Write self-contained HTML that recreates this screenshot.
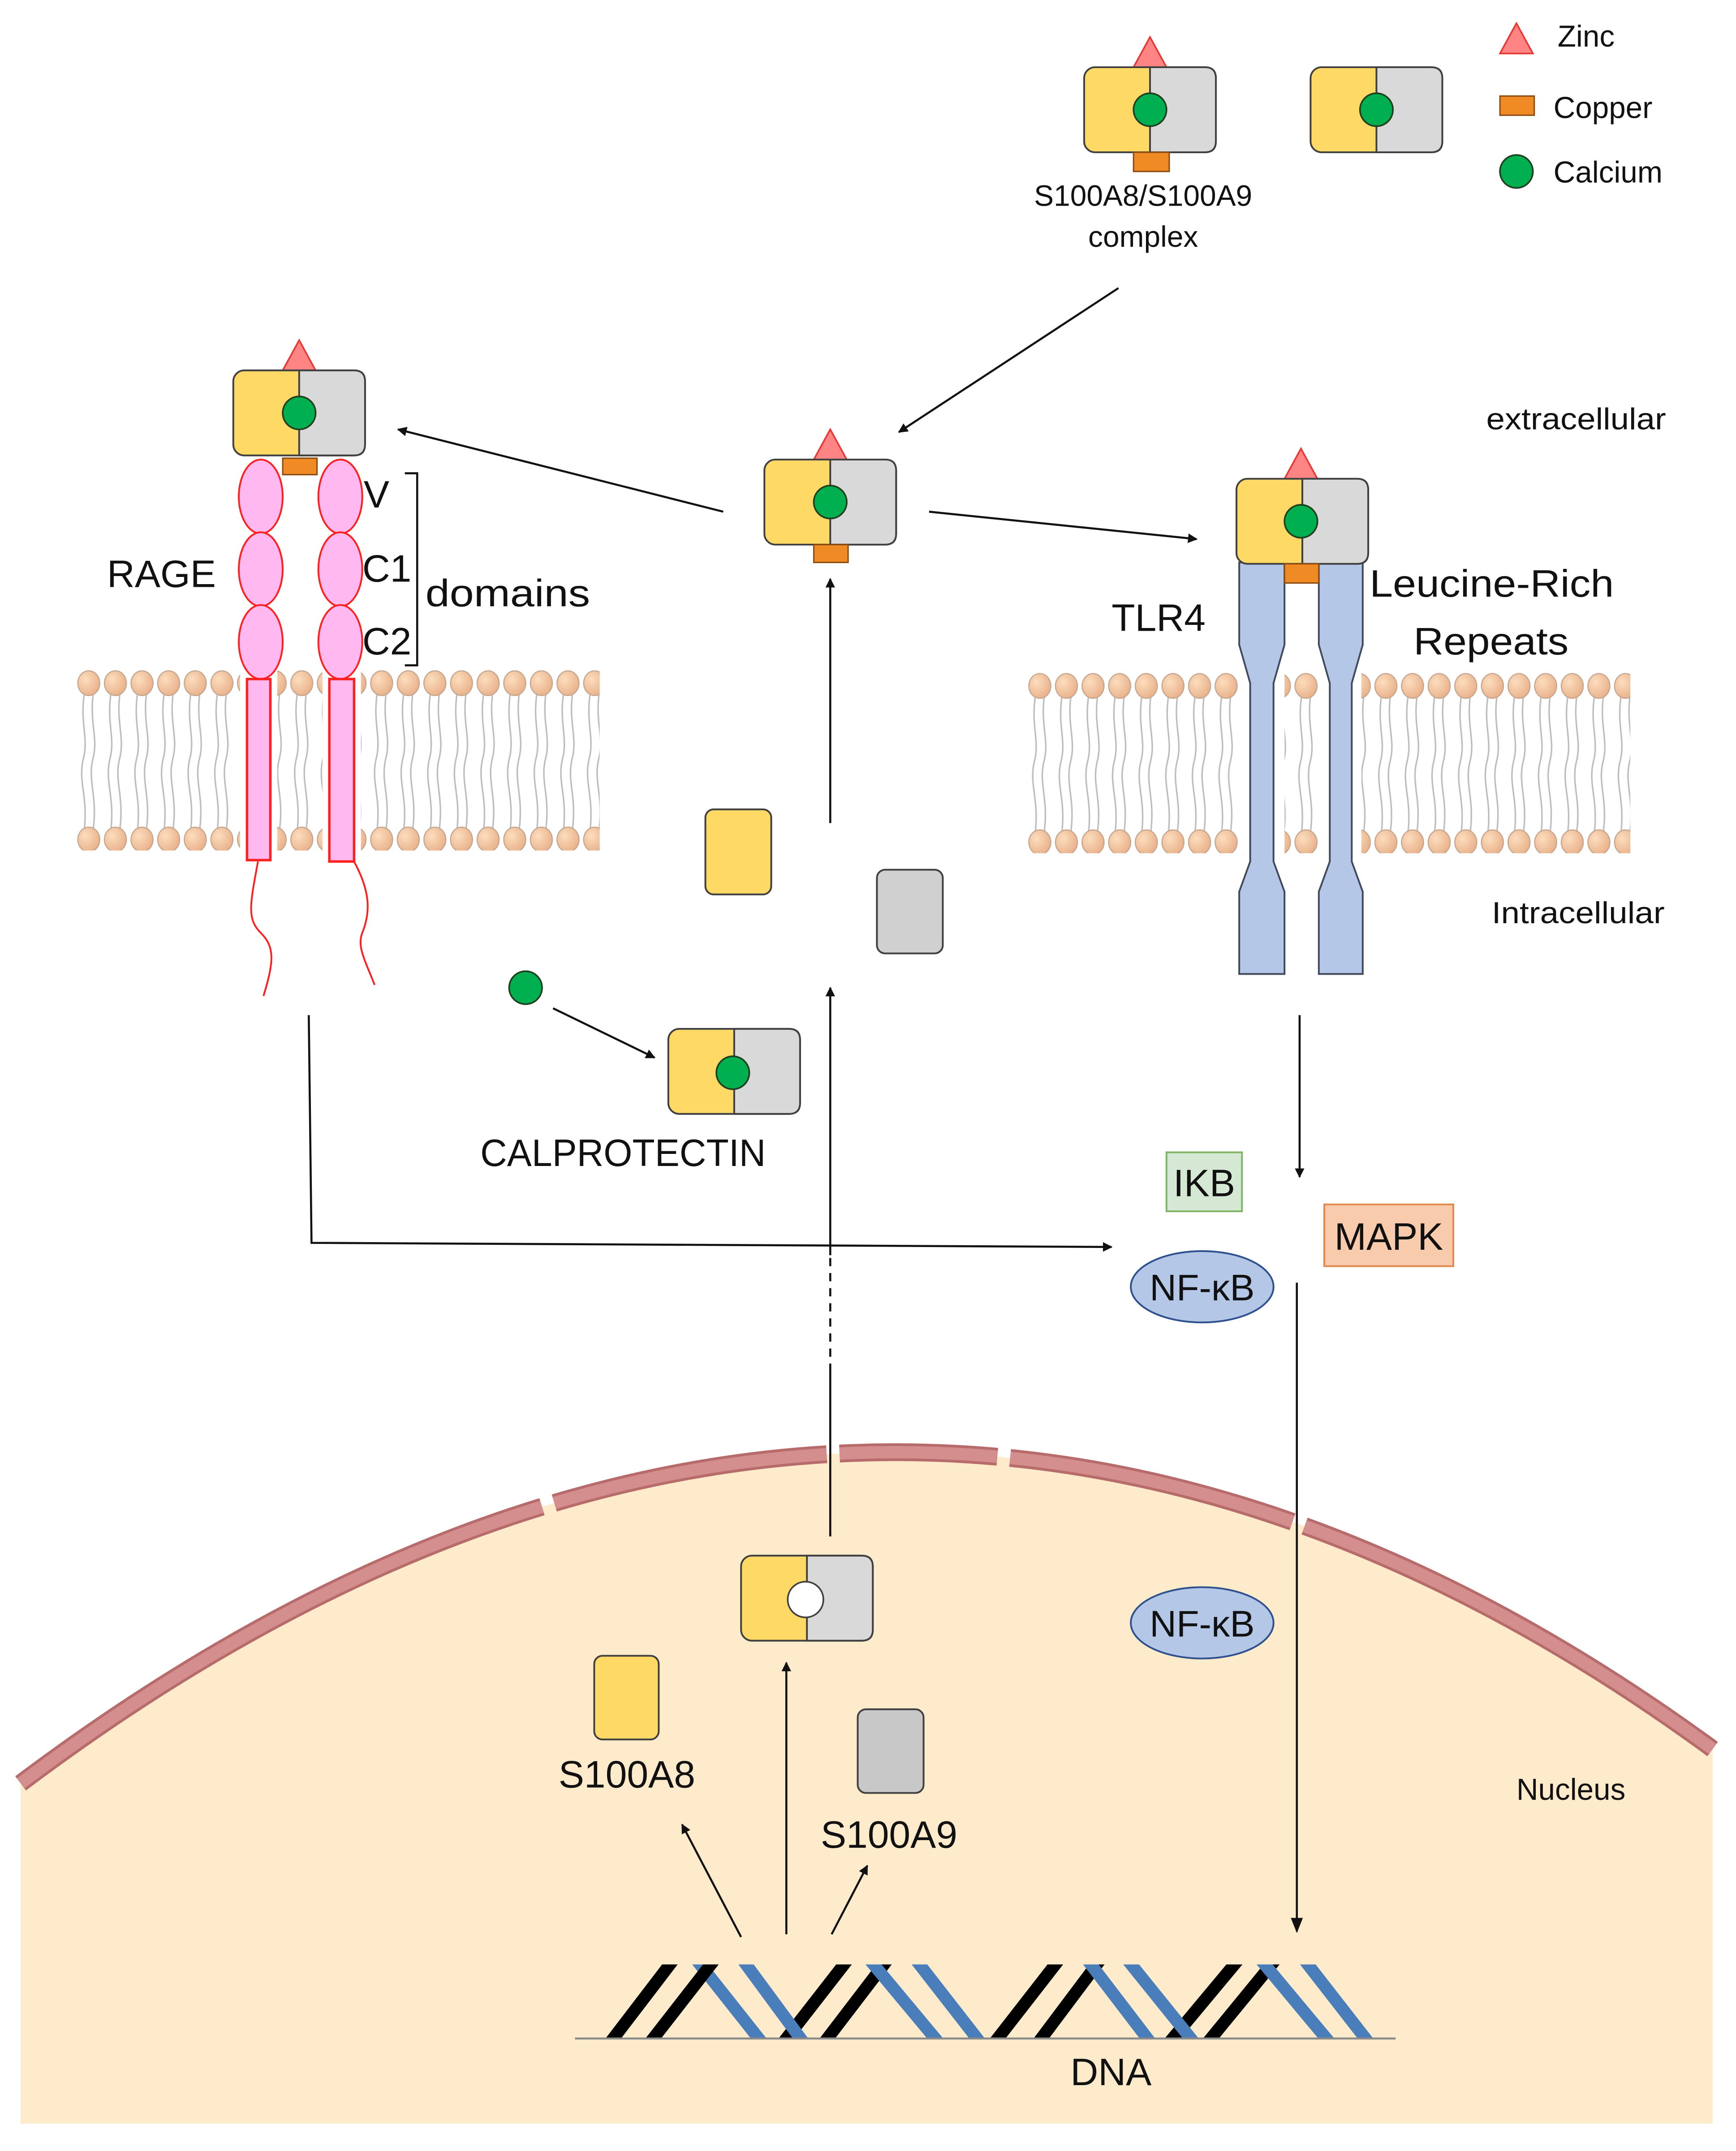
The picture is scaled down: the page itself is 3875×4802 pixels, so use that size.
<!DOCTYPE html>
<html><head><meta charset="utf-8"><style>html,body{margin:0;padding:0;background:#fff}svg{display:block}text{font-family:"Liberation Sans",sans-serif;fill:#111}</style></head>
<body>
<svg width="3875" height="4802" viewBox="0 0 1265 1568" preserveAspectRatio="none" xmlns="http://www.w3.org/2000/svg">
<defs>
<marker id="ar" viewBox="0 0 10 10" refX="9" refY="5" markerWidth="7" markerHeight="7" orient="auto" markerUnits="userSpaceOnUse"><path d="M0,0 L10,5 L0,10 Z" fill="#111"/></marker>
<marker id="arb" viewBox="0 0 10 10" refX="9" refY="5" markerWidth="11" markerHeight="11" orient="auto" markerUnits="userSpaceOnUse"><path d="M0,1 L10,5 L0,9 Z" fill="#111"/></marker>
<radialGradient id="hd" cx="0.35" cy="0.35" r="0.7"><stop offset="0" stop-color="#FCDDBE"/><stop offset="1" stop-color="#E9B18A"/></radialGradient>
<clipPath id="dnaclip"><rect x="400" y="1432" width="640" height="54"/></clipPath>
<pattern id="lip" x="55" y="488" width="19.4" height="132" patternUnits="userSpaceOnUse">
<path d="M6.5,17 C3,40 10,50 5.5,66 C2,82 9,92 6.5,116 M13,17 C10,40 17,50 12.5,66 C9,82 16,92 13,116" fill="none" stroke="#BDBDBD" stroke-width="1.1"/>
<ellipse cx="9.7" cy="10" rx="8" ry="9" fill="url(#hd)" stroke="#C4A58E" stroke-width="0.8"/>
<ellipse cx="9.7" cy="124" rx="8" ry="9" fill="url(#hd)" stroke="#C4A58E" stroke-width="0.8"/>
</pattern>
<pattern id="lip2" x="748" y="490" width="19.4" height="132" patternUnits="userSpaceOnUse">
<path d="M6.5,17 C3,40 10,50 5.5,66 C2,82 9,92 6.5,116 M13,17 C10,40 17,50 12.5,66 C9,82 16,92 13,116" fill="none" stroke="#BDBDBD" stroke-width="1.1"/>
<ellipse cx="9.7" cy="10" rx="8" ry="9" fill="url(#hd)" stroke="#C4A58E" stroke-width="0.8"/>
<ellipse cx="9.7" cy="124" rx="8" ry="9" fill="url(#hd)" stroke="#C4A58E" stroke-width="0.8"/>
</pattern>
<g id="cx">
<rect x="0" y="0" width="96" height="62" rx="8" fill="#FFD966" stroke="#404040" stroke-width="1.3"/>
<path d="M48,0 H88 Q96,0 96,8 V54 Q96,62 88,62 H48 Z" fill="#D9D9D9" stroke="#404040" stroke-width="1.3"/>
</g>
<g id="zn"><path d="M0,-22 L-12,0 L12,0 Z" fill="#FF8585" stroke="#E53935" stroke-width="1.2"/></g>
</defs>

<!-- nucleus -->
<path d="M15,1300 Q640,830 1248,1275 L1248,1548 L15,1548 Z" fill="#FEEBCB"/>
<path d="M15,1300 Q640,830 1248,1275" pathLength="1000" fill="none" stroke="#B86B6B" stroke-width="13" stroke-dasharray="323 7 151 7 86 7 158 7 400"/>
<path d="M15,1300 Q640,830 1248,1275" pathLength="1000" fill="none" stroke="#D48E8D" stroke-width="9" stroke-dasharray="323 7 151 7 86 7 158 7 400"/>

<!-- legend -->
<use href="#zn" x="1105" y="39"/>
<text x="1135" y="34" font-size="22">Zinc</text>
<rect x="1093" y="70" width="25" height="14" fill="#F08A24" stroke="#8a4a10" stroke-width="1"/>
<text x="1132" y="86" font-size="22">Copper</text>
<circle cx="1105" cy="125" r="12" fill="#00B050" stroke="#1f3f1f" stroke-width="1.2"/>
<text x="1132" y="133" font-size="22">Calcium</text>

<!-- top complexes -->
<use href="#zn" x="838" y="49"/>
<use href="#cx" x="790" y="49"/>
<circle cx="838" cy="80" r="12" fill="#00B050" stroke="#1f3f1f" stroke-width="1.2"/>
<rect x="826" y="111" width="26" height="14" fill="#F08A24" stroke="#8a4a10" stroke-width="1"/>
<use href="#cx" x="955" y="49"/>
<circle cx="1003" cy="80" r="12" fill="#00B050" stroke="#1f3f1f" stroke-width="1.2"/>
<text x="833" y="150" font-size="21.5" text-anchor="middle">S100A8/S100A9</text>
<text x="833" y="180" font-size="21.5" text-anchor="middle">complex</text>
<line x1="815" y1="210" x2="655" y2="315" stroke="#111" stroke-width="1.5" marker-end="url(#ar)"/>

<!-- center complex -->
<use href="#zn" x="605" y="335"/>
<use href="#cx" x="557" y="335"/>
<circle cx="605" cy="366" r="12" fill="#00B050" stroke="#1f3f1f" stroke-width="1.2"/>
<rect x="593" y="397" width="25" height="13" fill="#F08A24" stroke="#8a4a10" stroke-width="1"/>
<line x1="527" y1="373" x2="290" y2="313" stroke="#111" stroke-width="1.5" marker-end="url(#ar)"/>
<line x1="677" y1="373" x2="872" y2="393" stroke="#111" stroke-width="1.5" marker-end="url(#ar)"/>
<line x1="605" y1="600" x2="605" y2="422" stroke="#111" stroke-width="1.5" marker-end="url(#ar)"/>

<!-- membranes -->
<rect x="55" y="488" width="382" height="132" fill="url(#lip)"/>
<rect x="748" y="490" width="440" height="132" fill="url(#lip2)"/>
<rect x="175" y="486" width="27" height="136" fill="#fff"/>
<rect x="235" y="486" width="28" height="136" fill="#fff"/>
<rect x="904" y="488" width="32" height="136" fill="#fff"/>
<rect x="962" y="488" width="30" height="136" fill="#fff"/>

<!-- RAGE -->
<use href="#zn" x="218" y="270"/>
<use href="#cx" x="170" y="270"/>
<circle cx="218" cy="301" r="12" fill="#00B050" stroke="#1f3f1f" stroke-width="1.2"/>
<rect x="206" y="334" width="25" height="12" fill="#F08A24" stroke="#8a4a10" stroke-width="1"/>
<g fill="#FFB9F0" stroke="#FF2020" stroke-width="1.3">
<ellipse cx="190" cy="362" rx="16" ry="27"/><ellipse cx="190" cy="415" rx="16" ry="27"/><ellipse cx="190" cy="468" rx="16" ry="27"/>
<ellipse cx="248" cy="362" rx="16" ry="27"/><ellipse cx="248" cy="415" rx="16" ry="27"/><ellipse cx="248" cy="468" rx="16" ry="27"/>
<rect x="180" y="495" width="17" height="132" stroke-width="1.8"/>
<rect x="240" y="495" width="18" height="133" stroke-width="1.8"/>
</g>
<path d="M188,628 C182,660 180,670 190,680 C200,690 200,700 192,726" fill="none" stroke="#FF2020" stroke-width="1.3"/>
<path d="M258,628 C270,650 270,665 264,680 C260,690 266,700 273,718" fill="none" stroke="#FF2020" stroke-width="1.3"/>
<text x="265" y="370" font-size="28">V</text>
<text x="264" y="424" font-size="28">C1</text>
<text x="264" y="477" font-size="28">C2</text>
<path d="M295,345 H304 V485 H295" fill="none" stroke="#111" stroke-width="1.5"/>
<text x="310" y="442" font-size="28" textLength="120" lengthAdjust="spacingAndGlyphs">domains</text>
<text x="78" y="428" font-size="28">RAGE</text>

<!-- TLR4 -->
<g fill="#B4C7E7" stroke="#404a5a" stroke-width="1.3">
<path d="M903,410 H936 V470 L928,498 V628 L936,650 V710 H903 V650 L911,628 V498 L903,470 Z"/>
<path d="M961,410 H993 V470 L985,498 V628 L993,650 V710 H961 V650 L969,628 V498 L961,470 Z"/>
</g>
<use href="#zn" x="948" y="349"/>
<use href="#cx" x="901" y="349"/>
<circle cx="948" cy="380" r="12" fill="#00B050" stroke="#1f3f1f" stroke-width="1.2"/>
<rect x="936" y="411" width="25" height="14" fill="#F08A24" stroke="#8a4a10" stroke-width="1"/>
<text x="810" y="460" font-size="28">TLR4</text>
<text x="998" y="435" font-size="28" textLength="178" lengthAdjust="spacingAndGlyphs">Leucine-Rich</text>
<text x="1030" y="477" font-size="28" textLength="113" lengthAdjust="spacingAndGlyphs">Repeats</text>
<text x="1083" y="313" font-size="22" textLength="131" lengthAdjust="spacingAndGlyphs">extracellular</text>
<text x="1087" y="673" font-size="22" textLength="126" lengthAdjust="spacingAndGlyphs">Intracellular</text>

<!-- monomers -->
<rect x="514" y="590" width="48" height="62" rx="6" fill="#FFD966" stroke="#404040" stroke-width="1.3"/>
<rect x="639" y="634" width="48" height="61" rx="6" fill="#D0D0D0" stroke="#404040" stroke-width="1.3"/>

<!-- calprotectin -->
<circle cx="383" cy="720" r="12" fill="#00B050" stroke="#1f3f1f" stroke-width="1.2"/>
<line x1="403" y1="735" x2="477" y2="771" stroke="#111" stroke-width="1.5" marker-end="url(#ar)"/>
<use href="#cx" x="487" y="750"/>
<circle cx="534" cy="782" r="12" fill="#00B050" stroke="#1f3f1f" stroke-width="1.2"/>
<text x="350" y="850" font-size="28" textLength="208" lengthAdjust="spacingAndGlyphs">CALPROTECTIN</text>

<!-- central vertical arrow -->
<line x1="605" y1="1120" x2="605" y2="1000" stroke="#111" stroke-width="1.5"/>
<line x1="605" y1="1000" x2="605" y2="915" stroke="#111" stroke-width="1.5" stroke-dasharray="6 5"/>
<line x1="605" y1="915" x2="605" y2="720" stroke="#111" stroke-width="1.5" marker-end="url(#ar)"/>

<!-- RAGE signaling -->
<polyline points="225,740 227,906 810,909" fill="none" stroke="#111" stroke-width="1.5" marker-end="url(#ar)"/>
<line x1="947" y1="740" x2="947" y2="858" stroke="#111" stroke-width="1.5" marker-end="url(#ar)"/>

<rect x="850" y="840" width="55" height="43" fill="#D5E8D4" stroke="#82B366" stroke-width="1.3"/>
<text x="877.5" y="872" font-size="28" text-anchor="middle">IKB</text>
<rect x="965" y="878" width="94" height="45" fill="#F8CBAD" stroke="#E08A50" stroke-width="1.3"/>
<text x="1012" y="911" font-size="28" text-anchor="middle">MAPK</text>
<ellipse cx="876" cy="938" rx="52" ry="26" fill="#B4C7E7" stroke="#2F528F" stroke-width="1.3"/>
<text x="876" y="948" font-size="27" text-anchor="middle">NF-κB</text>
<line x1="945" y1="935" x2="945" y2="1408" stroke="#111" stroke-width="1.5" marker-end="url(#arb)"/>
<ellipse cx="876" cy="1183" rx="52" ry="26" fill="#B4C7E7" stroke="#2F528F" stroke-width="1.3"/>
<text x="876" y="1193" font-size="27" text-anchor="middle">NF-κB</text>

<!-- nucleus contents -->
<use href="#cx" x="540" y="1134"/>
<circle cx="587" cy="1166" r="13" fill="#fff" stroke="#404040" stroke-width="1.2"/>
<line x1="573" y1="1410" x2="573" y2="1212" stroke="#111" stroke-width="1.5" marker-end="url(#ar)"/>
<line x1="540" y1="1412" x2="497" y2="1330" stroke="#111" stroke-width="1.5" marker-end="url(#ar)"/>
<line x1="606" y1="1410" x2="632" y2="1360" stroke="#111" stroke-width="1.5" marker-end="url(#ar)"/>
<rect x="433" y="1207" width="47" height="61" rx="6" fill="#FFD966" stroke="#404040" stroke-width="1.3"/>
<text x="407" y="1303" font-size="28">S100A8</text>
<rect x="625" y="1246" width="48" height="61" rx="6" fill="#C8C8C8" stroke="#404040" stroke-width="1.3"/>
<text x="598" y="1347" font-size="28">S100A9</text>
<text x="1105" y="1312" font-size="22">Nucleus</text>

<!-- DNA -->
<g clip-path="url(#dnaclip)" stroke-width="9" fill="none">
<g stroke="#000">
<line x1="566" y1="1495" x2="622" y2="1423"/><line x1="596" y1="1495" x2="651" y2="1423"/>
</g>
<g stroke="#4A7EBB">
<line x1="503" y1="1423" x2="560" y2="1495"/><line x1="537" y1="1423" x2="590" y2="1495"/>
</g>
<g stroke="#000">
<line x1="440" y1="1495" x2="495" y2="1423"/><line x1="469" y1="1495" x2="525" y2="1423"/>
<line x1="720" y1="1495" x2="776" y2="1423"/><line x1="752" y1="1495" x2="806" y2="1423"/>
</g>
<g stroke="#4A7EBB">
<line x1="629" y1="1423" x2="689" y2="1495"/><line x1="663" y1="1423" x2="719" y2="1495"/>
</g>
<g stroke="#000">
<line x1="847" y1="1495" x2="907" y2="1423"/><line x1="875" y1="1495" x2="934" y2="1423"/>
</g>
<g stroke="#4A7EBB">
<line x1="788" y1="1423" x2="843" y2="1495"/><line x1="817" y1="1423" x2="875" y2="1495"/>
<line x1="914" y1="1423" x2="974" y2="1495"/><line x1="946" y1="1423" x2="1002" y2="1495"/>
</g>
</g>
<line x1="419" y1="1486" x2="1017" y2="1486" stroke="#8a8a8a" stroke-width="1.5"/>
<text x="780" y="1520" font-size="28">DNA</text>
</svg>
</body></html>
